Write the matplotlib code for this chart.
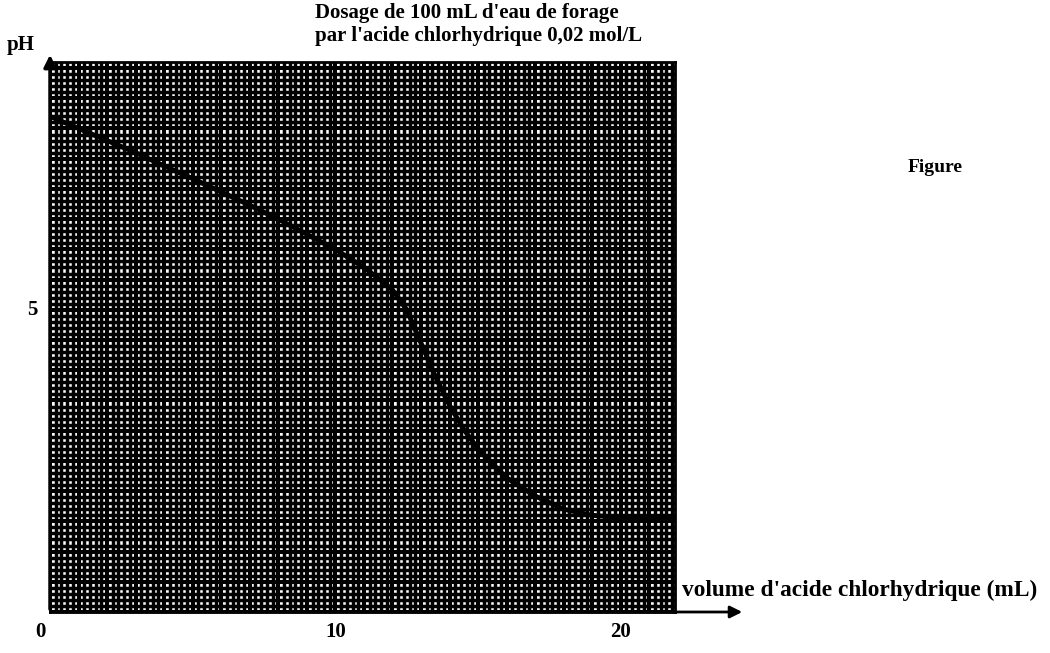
import numpy as np
import matplotlib.pyplot as plt
import matplotlib.transforms as mtransforms

# Titration data: volume of HCl (mL) and pH
volume = [0, 1, 2, 3, 4, 5, 6, 7, 8, 9, 10, 11, 11.5, 12, 12.5, 13, 13.5, 14, 14.5, 15, 15.5, 16, 17, 18, 19, 20, 21.9]
ph = [8.2, 8.0, 7.8, 7.6, 7.38, 7.17, 6.95, 6.73, 6.5, 6.25, 6.0, 5.7, 5.52, 5.33, 5.0, 4.45, 3.9, 3.42, 3.02, 2.7, 2.45, 2.22, 1.92, 1.7, 1.6, 1.56, 1.56]

xticks = [0, 10, 20]
yticks = [5]
title_lines = ["Dosage de 100 mL d'eau de forage", "par l'acide chlorhydrique 0,02 mol/L"]

plt.rcParams['font.family'] = ['Liberation Serif', 'DejaVu Serif']
plt.rcParams['font.weight'] = 'bold'

fig = plt.figure(figsize=(10.5, 6.53), dpi=100)
W, H = 1050, 653
# grid paper area in pixels
gx0, gx1, gy0, gy1 = 50, 675, 62, 612
ax = fig.add_axes([gx0 / W, 1 - gy1 / H, (gx1 - gx0) / W, (gy1 - gy0) / H])
ax.set_xlim(0, 21.9)
ax.set_ylim(0, 9.1)

# dense millimetre grid
ax.set_xticks(np.arange(0, 21.9, 0.2), minor=True)
ax.set_yticks(np.arange(0, 9.1, 0.1), minor=True)
ax.set_xticks(np.arange(0, 21.9, 1.0))
ax.set_yticks(np.arange(0, 9.1, 0.5))
ax.grid(True, which='minor', color='black', linewidth=2.5, zorder=0)
ax.grid(True, which='major', color='black', linewidth=2.9, zorder=0)
ax.set_axisbelow(True)
ax.tick_params(which='both', length=0, labelbottom=False, labelleft=False)
for s in ax.spines.values():
    s.set_color('black')
    s.set_linewidth(2)

ax.plot(volume, ph, color='black', linewidth=3.5, zorder=3)

# axis arrows
ax.annotate('', xy=(gx0 / W, 1 - 52 / H), xytext=(gx0 / W, 1 - gy1 / H), xycoords='figure fraction',
            arrowprops=dict(arrowstyle='-|>', color='black', lw=2.5, mutation_scale=18))
ax.annotate('', xy=(745 / W, 1 - gy1 / H), xytext=(gx0 / W, 1 - gy1 / H), xycoords='figure fraction',
            arrowprops=dict(arrowstyle='-|>', color='black', lw=2, mutation_scale=18))

# tick labels
tx = mtransforms.blended_transform_factory(ax.transData, fig.transFigure)
ty = mtransforms.blended_transform_factory(fig.transFigure, ax.transData)
for v in xticks:
    xv = v - 0.35 if v == 0 else v
    ax.text(xv, 1 - 632 / H, str(v), transform=tx, ha='center', va='center', fontsize=15)
for v in yticks:
    ax.text(32 / W, v, str(v), transform=ty, ha='center', va='center', fontsize=15)

fig.text(21 / W, 1 - 45 / H, 'pH', ha='center', va='center', fontsize=15)
fig.text(682 / W, 1 - 590 / H, "volume d'acide chlorhydrique (mL)", ha='left', va='center', fontsize=16.8)
fig.text(315 / W, 1 - 13 / H, title_lines[0], ha='left', va='center', fontsize=15)
fig.text(315 / W, 1 - 36 / H, title_lines[1], ha='left', va='center', fontsize=15)
fig.text(935 / W, 1 - 168 / H, 'Figure', ha='center', va='center', fontsize=14)

fig.savefig('out.png', dpi=100)
